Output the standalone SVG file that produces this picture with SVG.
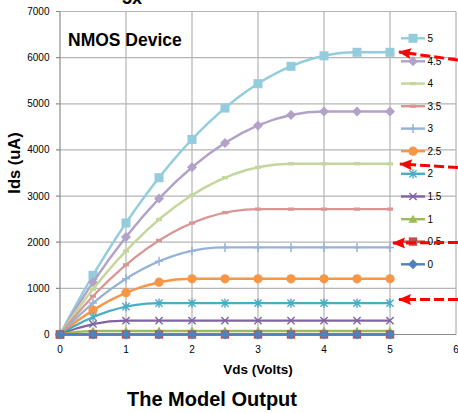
<svg xmlns="http://www.w3.org/2000/svg" width="458" height="413" viewBox="0 0 458 413">
<style>
text{font-family:"Liberation Sans",Arial,sans-serif;fill:#000}
.grid{stroke:#B5B5B5;stroke-width:1.2;fill:none}
.axis{stroke:#8C8C8C;stroke-width:1.2;fill:none}
.yl{font-size:10px;text-anchor:end}
.xl{font-size:10px;text-anchor:middle}
.lg{font-size:10px}
.c{fill:none;stroke-width:2.4;stroke-linejoin:round}
.pts{fill:none;stroke:none}
.arr{fill:none;stroke:#FF0000;stroke-width:3;stroke-dasharray:10 4;marker-end:url(#ah)}
</style>
<defs>
<marker id="ah" markerUnits="userSpaceOnUse" markerWidth="14" markerHeight="12" refX="0" refY="0" orient="auto" overflow="visible"><path d="M1 0 L-12 -5.5 L-10 0 L-12 5.5 Z" fill="#FF0000"/></marker>
<marker id="m5" markerUnits="userSpaceOnUse" markerWidth="10" markerHeight="10" refX="0" refY="0" overflow="visible"><rect x="-4.5" y="-4.5" width="9" height="9" fill="#93CDDD"/></marker>
<marker id="m45" markerUnits="userSpaceOnUse" markerWidth="10" markerHeight="10" refX="0" refY="0" overflow="visible"><path d="M0 -5 L5 0 L0 5 L-5 0 Z" fill="#B3A2C7"/></marker>
<marker id="m4" markerUnits="userSpaceOnUse" markerWidth="10" markerHeight="10" refX="0" refY="0" overflow="visible"><rect x="-3" y="-1.6" width="6" height="3.2" fill="#C3D69B"/></marker>
<marker id="m35" markerUnits="userSpaceOnUse" markerWidth="10" markerHeight="10" refX="0" refY="0" overflow="visible"><rect x="-3" y="-1.6" width="6" height="3.2" fill="#D99694"/></marker>
<marker id="m3" markerUnits="userSpaceOnUse" markerWidth="10" markerHeight="10" refX="0" refY="0" overflow="visible"><path d="M-4 0 H4 M0 -4.5 V4.5" stroke="#95B3D7" stroke-width="1.5" fill="none"/></marker>
<marker id="m25" markerUnits="userSpaceOnUse" markerWidth="10" markerHeight="10" refX="0" refY="0" overflow="visible"><circle r="4.6" fill="#F79646"/></marker>
<marker id="m2" markerUnits="userSpaceOnUse" markerWidth="10" markerHeight="10" refX="0" refY="0" overflow="visible"><path d="M-3.6 -3.6 L3.6 3.6 M-3.6 3.6 L3.6 -3.6 M0 -4.6 V4.6" stroke="#4BACC6" stroke-width="1.4" fill="none"/></marker>
<marker id="m15" markerUnits="userSpaceOnUse" markerWidth="10" markerHeight="10" refX="0" refY="0" overflow="visible"><path d="M-3.6 -3.6 L3.6 3.6 M-3.6 3.6 L3.6 -3.6" stroke="#8064A2" stroke-width="1.4" fill="none"/></marker>
<marker id="m1" markerUnits="userSpaceOnUse" markerWidth="10" markerHeight="10" refX="0" refY="0" overflow="visible"><path d="M0 -4.5 L4.6 3.6 L-4.6 3.6 Z" fill="#9BBB59"/></marker>
<marker id="m05" markerUnits="userSpaceOnUse" markerWidth="10" markerHeight="10" refX="0" refY="0" overflow="visible"><rect x="-4.2" y="-4.2" width="8.4" height="8.4" fill="#C0504D"/></marker>
<marker id="m0" markerUnits="userSpaceOnUse" markerWidth="10" markerHeight="10" refX="0" refY="0" overflow="visible"><path d="M0 -5 L5 0 L0 5 L-5 0 Z" fill="#4F81BD"/></marker>
</defs>
<rect width="458" height="413" fill="#FFFFFF"/>
<text x="122" y="3.5" font-size="18" font-weight="bold">5x</text>
<g id="gridlines">
<path class="grid" d="M60 11.5 H456 M60 57.6 H456 M60 103.8 H456 M60 149.9 H456 M60 196.1 H456 M60 242.2 H456 M60 288.4 H456"/>
<path class="grid" d="M126 11.5 V334.5 M192 11.5 V334.5 M258 11.5 V334.5 M324 11.5 V334.5 M390 11.5 V334.5 M456 11.5 V334.5"/>
<path class="axis" d="M60 11.5 V334.5 H456 M56 11.5 H60 M56 57.6 H60 M56 103.8 H60 M56 149.9 H60 M56 196.1 H60 M56 242.2 H60 M56 288.4 H60 M56 334.5 H60"/>
</g>
<g id="y-axis-labels">
<text class="yl" x="49.5" y="15">7000</text>
<text class="yl" x="49.5" y="61.1">6000</text>
<text class="yl" x="49.5" y="107.3">5000</text>
<text class="yl" x="49.5" y="153.4">4000</text>
<text class="yl" x="49.5" y="199.6">3000</text>
<text class="yl" x="49.5" y="245.7">2000</text>
<text class="yl" x="49.5" y="291.9">1000</text>
<text class="yl" x="49.5" y="338">0</text>
<text x="20" y="163" font-size="16.5" font-weight="bold" text-anchor="middle" transform="rotate(-90 20 163)">Ids (uA)</text>
</g>
<g id="x-axis-labels">
<text class="xl" x="60" y="353">0</text>
<text class="xl" x="126" y="353">1</text>
<text class="xl" x="192" y="353">2</text>
<text class="xl" x="258" y="353">3</text>
<text class="xl" x="324" y="353">4</text>
<text class="xl" x="390" y="353">5</text>
<text class="xl" x="456" y="353">6</text>
<text x="258" y="374" font-size="13.5" font-weight="bold" text-anchor="middle">Vds (Volts)</text>
</g>
<g id="chart-title">
<text x="68" y="46" font-size="17.5" font-weight="bold">NMOS Device</text>
</g>
<g id="series">
<g id="s5"><path class="c" stroke="#93CDDD" d="M60 334.5 Q208.5 52.3 357 52.3 H390"/><polyline class="pts" marker-start="url(#m5)" marker-mid="url(#m5)" marker-end="url(#m5)" points="60,334.5 93,275.3 126,223 159,177.7 192,139.4 225,108.1 258,83.7 291,66.3 324,55.8 357,52.3 390,52.3"/></g>
<g id="s45"><path class="c" stroke="#B3A2C7" d="M60 334.5 Q192 111.5 324 111.5 H390"/><polyline class="pts" marker-start="url(#m45)" marker-mid="url(#m45)" marker-end="url(#m45)" points="60,334.5 93,282.2 126,237 159,198.6 192,167.3 225,142.9 258,125.5 291,115 324,111.5 357,111.5 390,111.5"/></g>
<g id="s4"><path class="c" stroke="#C3D69B" d="M60 334.5 Q175.5 163.8 291 163.8 H390"/><polyline class="pts" marker-start="url(#m4)" marker-mid="url(#m4)" marker-end="url(#m4)" points="60,334.5 93,289.2 126,250.9 159,219.5 192,195.2 225,177.7 258,167.3 291,163.8 324,163.8 357,163.8 390,163.8"/></g>
<g id="s35"><path class="c" stroke="#D99694" d="M60 334.5 Q159 209.1 258 209.1 H390"/><polyline class="pts" marker-start="url(#m35)" marker-mid="url(#m35)" marker-end="url(#m35)" points="60,334.5 93,296.2 126,264.8 159,240.4 192,223 225,212.6 258,209.1 291,209.1 324,209.1 357,209.1 390,209.1"/></g>
<g id="s3"><path class="c" stroke="#95B3D7" d="M60 334.5 Q142.5 247.4 225 247.4 H390"/><polyline class="pts" marker-start="url(#m3)" marker-mid="url(#m3)" marker-end="url(#m3)" points="60,334.5 93,303.1 126,278.8 159,261.3 192,250.9 225,247.4 258,247.4 291,247.4 324,247.4 357,247.4 390,247.4"/></g>
<g id="s25"><path class="c" stroke="#F79646" d="M60 334.5 Q126 278.8 192 278.8 H390"/><polyline class="pts" marker-start="url(#m25)" marker-mid="url(#m25)" marker-end="url(#m25)" points="60,334.5 93,310.1 126,292.7 159,282.2 192,278.8 225,278.8 258,278.8 291,278.8 324,278.8 357,278.8 390,278.8"/></g>
<g id="s2"><path class="c" stroke="#4BACC6" d="M60 334.5 Q109.5 303.1 159 303.1 H390"/><polyline class="pts" marker-start="url(#m2)" marker-mid="url(#m2)" marker-end="url(#m2)" points="60,334.5 93,317.1 126,306.6 159,303.1 192,303.1 225,303.1 258,303.1 291,303.1 324,303.1 357,303.1 390,303.1"/></g>
<g id="s15"><path class="c" stroke="#8064A2" d="M60 334.5 Q93 320.6 126 320.6 H390"/><polyline class="pts" marker-start="url(#m15)" marker-mid="url(#m15)" marker-end="url(#m15)" points="60,334.5 93,324 126,320.6 159,320.6 192,320.6 225,320.6 258,320.6 291,320.6 324,320.6 357,320.6 390,320.6"/></g>
<g id="s1"><path class="c" stroke="#9BBB59" d="M60 334.5 Q76.5 331 93 331 H390"/><polyline class="pts" marker-start="url(#m1)" marker-mid="url(#m1)" marker-end="url(#m1)" points="60,334.5 93,331 126,331 159,331 192,331 225,331 258,331 291,331 324,331 357,331 390,331"/></g>
<g id="s05"><path class="c" stroke="#C0504D" d="M60 334.5 H390"/><polyline class="pts" marker-start="url(#m05)" marker-mid="url(#m05)" marker-end="url(#m05)" points="60,334.5 93,334.5 126,334.5 159,334.5 192,334.5 225,334.5 258,334.5 291,334.5 324,334.5 357,334.5 390,334.5"/></g>
<g id="s0"><path class="c" stroke="#4F81BD" d="M60 334.5 H390"/><polyline class="pts" marker-start="url(#m0)" marker-mid="url(#m0)" marker-end="url(#m0)" points="60,334.5 93,334.5 126,334.5 159,334.5 192,334.5 225,334.5 258,334.5 291,334.5 324,334.5 357,334.5 390,334.5"/></g>
</g>
<g id="legend">
<path class="c" stroke="#93CDDD" marker-mid="url(#m5)" d="M401 38.3 H413 H425"/><text class="lg" x="427.5" y="41.8">5</text>
<path class="c" stroke="#B3A2C7" marker-mid="url(#m45)" d="M401 61.3 H413 H425"/><text class="lg" x="427.5" y="64.8">4.5</text>
<path class="c" stroke="#C3D69B" marker-mid="url(#m4)" d="M401 83.6 H413 H425"/><text class="lg" x="427.5" y="87.1">4</text>
<path class="c" stroke="#D99694" marker-mid="url(#m35)" d="M401 106.2 H413 H425"/><text class="lg" x="427.5" y="109.7">3.5</text>
<path class="c" stroke="#95B3D7" marker-mid="url(#m3)" d="M401 128.6 H413 H425"/><text class="lg" x="427.5" y="132.1">3</text>
<path class="c" stroke="#F79646" marker-mid="url(#m25)" d="M401 151.2 H413 H425"/><text class="lg" x="427.5" y="154.7">2.5</text>
<path class="c" stroke="#4BACC6" marker-mid="url(#m2)" d="M401 173.8 H413 H425"/><text class="lg" x="427.5" y="177.3">2</text>
<path class="c" stroke="#8064A2" marker-mid="url(#m15)" d="M401 196.5 H413 H425"/><text class="lg" x="427.5" y="200">1.5</text>
<path class="c" stroke="#9BBB59" marker-mid="url(#m1)" d="M401 219.2 H413 H425"/><text class="lg" x="427.5" y="222.7">1</text>
<path class="c" stroke="#C0504D" marker-mid="url(#m05)" d="M401 241.6 H413 H425"/><text class="lg" x="427.5" y="245.1">0.5</text>
<path class="c" stroke="#4F81BD" marker-mid="url(#m0)" d="M401 264.3 H413 H425"/><text class="lg" x="427.5" y="267.8">0</text>
</g>
<g id="connectors">
<path class="arr" d="M458 60 L399 52"/>
<path class="arr" d="M458 167.5 L400 164"/>
<path class="arr" d="M458 242.5 L393 243"/>
<path class="arr" d="M458 299.5 L399 299.5"/>
</g>
<g id="caption">
<text x="212" y="406" font-size="20" font-weight="bold" text-anchor="middle">The Model Output</text>
</g>
</svg>
